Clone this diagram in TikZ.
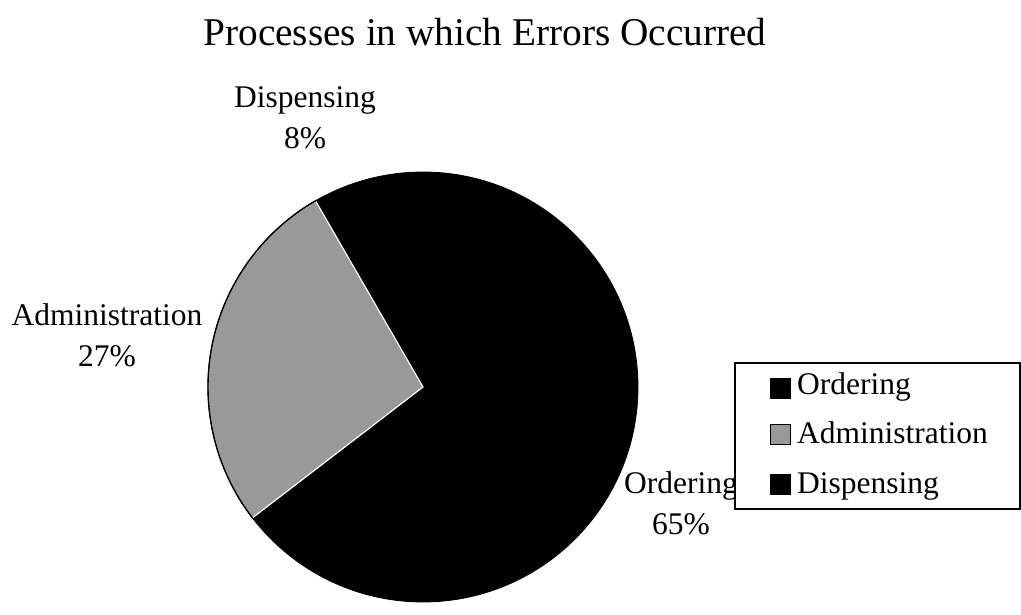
\documentclass[tikz,border=0pt]{standalone}
\usepackage{fontspec}
\setmainfont{Liberation Serif}
\usetikzlibrary{positioning}

\begin{document}
\begin{tikzpicture}[x=1pt,y=1pt,
  lbl/.style={align=center,inner sep=0pt,font=\fontsize{31.5}{41}\selectfont},
  keybox/.style={draw=black,line width=0.8pt,minimum size=20pt,inner sep=0pt}]
\useasboundingbox (0,0) rectangle (1021,614);
\node[font=\fontsize{39.3}{46}\selectfont,inner sep=0pt,anchor=base] (0) at (485,568) {Processes in which Errors Occurred};

\coordinate (1) at (423,227);
\fill[black] (1) circle (215);
\path[fill=black!40,draw=white,line width=1.2pt] (1) -- ++(120:215) arc (120:217.5:215) -- cycle;
\draw[black,line width=1.4pt] (1) ++(120:215) arc (120:217.5:215);
\draw[black,line width=0.8pt] (1) circle (215);

\node[lbl] (2) at (305,496) {Dispensing\\8\%};
\node[lbl] (3) at (107,279) {Administration\\27\%};
\node[lbl] (4) at (681,111) {Ordering\\65\%};

\draw[black,line width=1.2pt,fill=white] (735,251) rectangle (1020,105);
\node[keybox,fill=black] (5) at (780.5,226) {};
\node[keybox,fill=black!40] (6) at (780.5,180) {};
\node[keybox,fill=black] (7) at (780.5,130) {};
\node[lbl,anchor=base west] (8) at (797,219) {Ordering};
\node[lbl,anchor=base west] (9) at (797,171) {Administration};
\node[lbl,anchor=base west] (10) at (797,121) {Dispensing};
\end{tikzpicture}
\end{document}
